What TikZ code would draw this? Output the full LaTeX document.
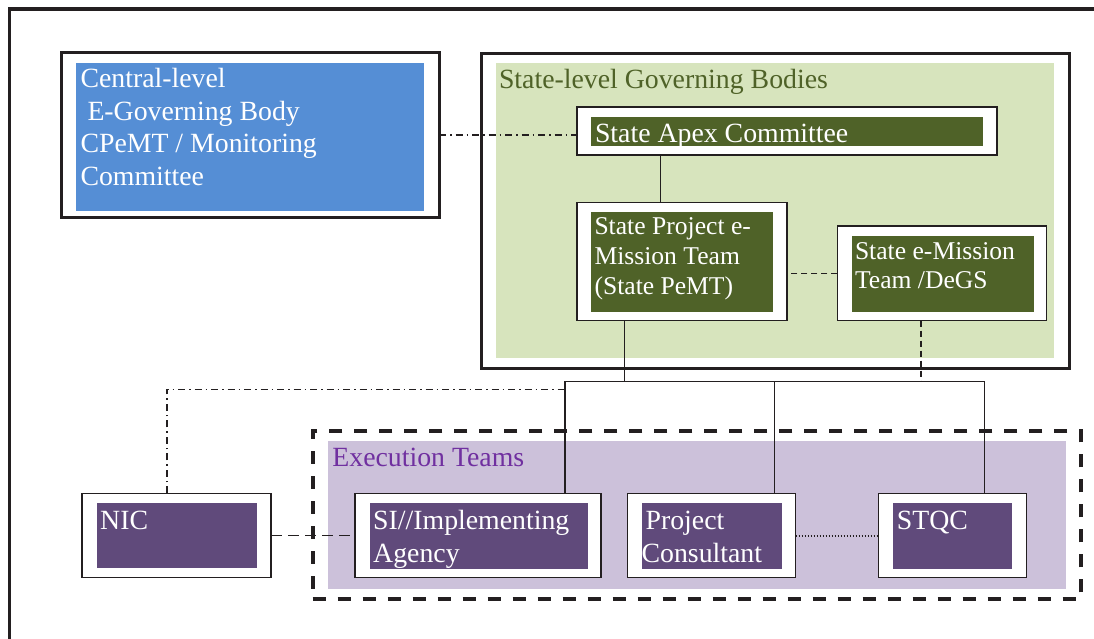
\documentclass[tikz,border=0pt]{standalone}
\usepackage{fontspec}
\setmainfont{Liberation Serif}
\definecolor{ln}{RGB}{35,31,32}
\definecolor{cblue}{RGB}{85,142,213}
\definecolor{lgreen}{RGB}{215,228,189}
\definecolor{dgreen}{RGB}{79,98,40}
\definecolor{lpurple}{RGB}{204,193,218}
\definecolor{dpurple}{RGB}{96,74,123}
\definecolor{tpurple}{RGB}{112,48,160}
\newcommand{\lines}[1]{\begin{tabular}[t]{@{}l@{}}#1\end{tabular}}
\begin{document}
\begin{tikzpicture}[x=1pt,y=-1pt,
  frame/.style={draw=ln, line width=3pt, inner sep=0pt, outer sep=0pt, anchor=north west},
  wbox/.style={draw=ln, fill=white, line width=1.5pt, inner sep=0pt, outer sep=0pt, anchor=north west},
  fillbox/.style={draw=none, inner sep=0pt, outer sep=0pt, anchor=north west},
  txt/.style={anchor=base west, inner sep=0pt, outer sep=0pt, text=white, font=\fontsize{27.8}{32.7}\selectfont},
  txtsm/.style={txt, font=\fontsize{25.6}{29.8}\selectfont},
  conn/.style={draw=ln, line width=1.5pt},
  dashdotline/.style={conn, line width=1.6pt, dash pattern=on 7pt off 4pt on 1.5pt off 4pt},
  shortdash/.style={conn, dash pattern=on 6pt off 4pt},
  longdash/.style={conn, line width=1.8pt, dash pattern=on 11pt off 6pt},
  dotline/.style={conn, line width=2pt, dash pattern=on 1.5pt off 1.5pt}]
\useasboundingbox (0,0) rectangle (1094,639);
% outer frame
\begin{scope}
\clip (0,0) rectangle (1094,639);
\draw[ln, line width=3.5pt] (9.5,700) -- (9.5,9) -- (1120,9);
\end{scope}
% central body
\node[frame, minimum width=377.5pt, minimum height=164pt] (central) at (61.5,53) {};
\node[fillbox, fill=cblue, minimum width=347.5pt, minimum height=147.5pt] (centralIn) at (76,63) {};
\node[txt] (centralT) at (80.5,87.5) {\lines{Central-level\\\hspace*{7pt}E-Governing Body\\CPeMT / Monitoring\\Committee}};
% state level
\node[frame, minimum width=587.5pt, minimum height=314.5pt] (state) at (481.5,53.5) {};
\node[fillbox, fill=lgreen, minimum width=558pt, minimum height=294.5pt] (stateIn) at (496,63) {};
\node[txt, text=dgreen] (stateT) at (499,89) {State-level Governing Bodies};
\node[wbox, minimum width=420pt, minimum height=48pt] (apex) at (577,107) {};
\node[fillbox, fill=dgreen, minimum width=392pt, minimum height=28.7pt] (apexIn) at (591,117) {};
\node[txt] (apexT) at (595,142.7) {State Apex Committee};
\node[wbox, minimum width=210pt, minimum height=118pt] (pemt) at (577,202.5) {};
\node[fillbox, fill=dgreen, minimum width=182pt, minimum height=99.5pt] (pemtIn) at (591,212) {};
\node[txtsm] (pemtT) at (594.5,234.5) {\lines{State Project e-\\Mission Team\\(State PeMT)}};
\node[wbox, minimum width=209.4pt, minimum height=94.5pt] (emission) at (837.3,226) {};
\node[fillbox, fill=dgreen, minimum width=182pt, minimum height=75.5pt] (emissionIn) at (852,236) {};
\node[txtsm] (emissionT) at (855,259) {\lines{State e-Mission\\Team /DeGS}};
% execution teams
\node[fillbox, fill=lpurple, minimum width=737.4pt, minimum height=148pt] (execIn) at (328.3,441) {};
\node[frame, line width=4pt, dash pattern=on 13pt off 12pt, minimum width=768.3pt, minimum height=168pt] (exec) at (312.7,431) {};
\node[txt, text=tpurple] (execT) at (332.4,466.7) {Execution Teams};
\node[wbox, minimum width=189pt, minimum height=84.4pt] (nic) at (82,493.3) {};
\node[fillbox, fill=dpurple, minimum width=160pt, minimum height=65.6pt] (nicIn) at (96.7,502.7) {};
\node[txt] (nicT) at (100.2,529) {NIC};
\node[wbox, minimum width=246pt, minimum height=84.4pt] (si) at (355,493.3) {};
\node[fillbox, fill=dpurple, minimum width=218.3pt, minimum height=66pt] (siIn) at (370,502.7) {};
\node[txt] (siT) at (373.2,529.8) {\lines{SI//Implementing\\Agency}};
\node[wbox, minimum width=168.4pt, minimum height=84.4pt] (pc) at (627.3,493.3) {};
\node[fillbox, fill=dpurple, minimum width=140.3pt, minimum height=66pt] (pcIn) at (641.7,502.7) {};
\node[txt] (pcT) at (641.6,529.3) {\lines{\hspace*{4pt}Project\\Consultant}};
\node[wbox, minimum width=148pt, minimum height=84.4pt] (stqc) at (878.7,493.3) {};
\node[fillbox, fill=dpurple, minimum width=119.3pt, minimum height=66pt] (stqcIn) at (892.7,502.7) {};
\node[txt] (stqcT) at (896.8,529.3) {STQC};
% connectors
\coordinate (busL) at (565,381.7);
\coordinate (busR) at (984.3,381.7);
\coordinate (nicBus) at (565,389.3);
\draw[dashdotline] (central.east) -- (central.east -| apex.west);
\draw[conn] ([xshift=83.7pt]apex.south west) -- ([xshift=83.7pt]pemt.north west);
\draw[shortdash] (emission.west) -- (emission.west -| pemt.east);
\draw[conn] ([xshift=47.3pt]pemt.south west) -- ([xshift=47.3pt]pemt.south west |- busL);
\draw[shortdash] ([xshift=83.7pt]emission.south west) -- ([xshift=83.7pt]emission.south west |- busL);
\draw[conn] ([xshift=210pt]si.north west) -- (busL) -- (busR) -- ([xshift=105.6pt]stqc.north west);
\draw[conn] ([xshift=147pt]pc.north west) -- ([xshift=147pt]pc.north west |- busL);
\draw[dashdotline] ([xshift=84.7pt]nic.north west) |- (nicBus);
\draw[longdash] (nic.east) -- (si.west);
\draw[dotline] (pc.east) -- (stqc.west);
\end{tikzpicture}
\end{document}
